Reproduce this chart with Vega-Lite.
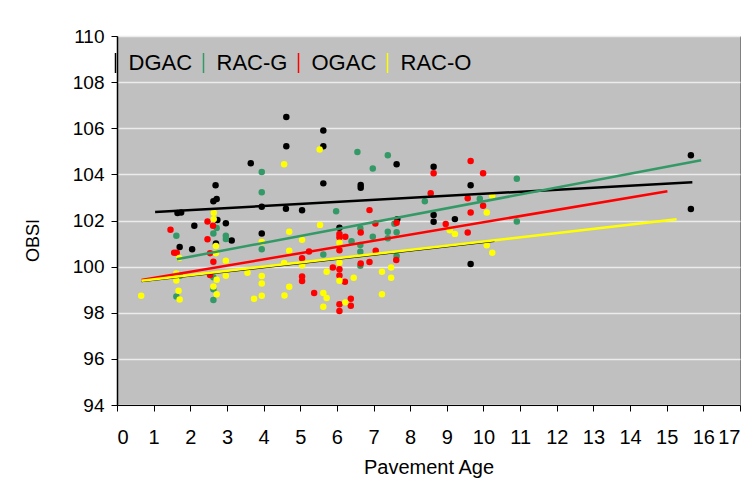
{
  "$schema": "https://vega.github.io/schema/vega-lite/v6.json",
  "width": 623,
  "height": 369,
  "autosize": {"type": "none"},
  "padding": {"left": 117, "top": 36, "right": 14, "bottom": 93},
  "background": "white",
  "config": {
    "font": "Liberation Sans",
    "view": {"fill": "#c0c0c0", "stroke": "#808080", "strokeWidth": 1}
  },
  "datasets": {
    "pts": [
      {"mix": "DGAC", "age": 1.65, "obsi": 102.33},
      {"mix": "DGAC", "age": 1.75, "obsi": 102.35},
      {"mix": "DGAC", "age": 2.11, "obsi": 101.77},
      {"mix": "DGAC", "age": 2.97, "obsi": 101.88},
      {"mix": "DGAC", "age": 1.71, "obsi": 100.85},
      {"mix": "DGAC", "age": 2.05, "obsi": 100.75},
      {"mix": "DGAC", "age": 2.63, "obsi": 102.83},
      {"mix": "DGAC", "age": 2.72, "obsi": 102.93},
      {"mix": "DGAC", "age": 2.74, "obsi": 102.02},
      {"mix": "DGAC", "age": 3.13, "obsi": 101.13},
      {"mix": "DGAC", "age": 2.70, "obsi": 101.0},
      {"mix": "DGAC", "age": 3.95, "obsi": 101.44},
      {"mix": "DGAC", "age": 3.95, "obsi": 102.6},
      {"mix": "DGAC", "age": 4.61, "obsi": 102.51},
      {"mix": "DGAC", "age": 2.69, "obsi": 103.53},
      {"mix": "DGAC", "age": 3.65, "obsi": 104.48},
      {"mix": "DGAC", "age": 4.62, "obsi": 106.49},
      {"mix": "DGAC", "age": 4.62, "obsi": 105.22},
      {"mix": "DGAC", "age": 5.63, "obsi": 105.9},
      {"mix": "DGAC", "age": 5.63, "obsi": 105.22},
      {"mix": "DGAC", "age": 5.63, "obsi": 103.61},
      {"mix": "DGAC", "age": 6.65, "obsi": 103.54},
      {"mix": "DGAC", "age": 6.65, "obsi": 103.42},
      {"mix": "DGAC", "age": 7.63, "obsi": 104.44},
      {"mix": "DGAC", "age": 8.64, "obsi": 104.33},
      {"mix": "DGAC", "age": 5.05, "obsi": 102.44},
      {"mix": "DGAC", "age": 6.07, "obsi": 101.69},
      {"mix": "DGAC", "age": 7.65, "obsi": 102.06},
      {"mix": "DGAC", "age": 8.64, "obsi": 102.24},
      {"mix": "DGAC", "age": 8.64, "obsi": 101.95},
      {"mix": "DGAC", "age": 9.65, "obsi": 103.53},
      {"mix": "DGAC", "age": 9.22, "obsi": 102.06},
      {"mix": "DGAC", "age": 9.65, "obsi": 100.11},
      {"mix": "DGAC", "age": 15.66, "obsi": 104.83},
      {"mix": "DGAC", "age": 15.66, "obsi": 102.5},
      {"mix": "RAC-G", "age": 3.95, "obsi": 104.1},
      {"mix": "RAC-G", "age": 3.95, "obsi": 103.22},
      {"mix": "RAC-G", "age": 6.56, "obsi": 104.97},
      {"mix": "RAC-G", "age": 7.39, "obsi": 104.83},
      {"mix": "RAC-G", "age": 6.98, "obsi": 104.25},
      {"mix": "RAC-G", "age": 5.98, "obsi": 102.4},
      {"mix": "RAC-G", "age": 8.4, "obsi": 102.83},
      {"mix": "RAC-G", "age": 10.91, "obsi": 103.81},
      {"mix": "RAC-G", "age": 10.91, "obsi": 101.96},
      {"mix": "RAC-G", "age": 9.9, "obsi": 102.94},
      {"mix": "RAC-G", "age": 1.62, "obsi": 101.34},
      {"mix": "RAC-G", "age": 2.63, "obsi": 101.44},
      {"mix": "RAC-G", "age": 2.72, "obsi": 101.67},
      {"mix": "RAC-G", "age": 2.97, "obsi": 101.34},
      {"mix": "RAC-G", "age": 2.97, "obsi": 101.2},
      {"mix": "RAC-G", "age": 3.95, "obsi": 100.75},
      {"mix": "RAC-G", "age": 2.63, "obsi": 99.54},
      {"mix": "RAC-G", "age": 1.62, "obsi": 98.71},
      {"mix": "RAC-G", "age": 2.63, "obsi": 99.02},
      {"mix": "RAC-G", "age": 2.63, "obsi": 98.55},
      {"mix": "RAC-G", "age": 1.72, "obsi": 99.6},
      {"mix": "RAC-G", "age": 5.63, "obsi": 100.53},
      {"mix": "RAC-G", "age": 6.4, "obsi": 101.1},
      {"mix": "RAC-G", "age": 6.64, "obsi": 101.66},
      {"mix": "RAC-G", "age": 6.64, "obsi": 100.94},
      {"mix": "RAC-G", "age": 6.64, "obsi": 100.65},
      {"mix": "RAC-G", "age": 6.64, "obsi": 100.04},
      {"mix": "RAC-G", "age": 6.98, "obsi": 101.3},
      {"mix": "RAC-G", "age": 7.39, "obsi": 101.51},
      {"mix": "RAC-G", "age": 7.39, "obsi": 101.23},
      {"mix": "RAC-G", "age": 7.63, "obsi": 101.49},
      {"mix": "RAC-G", "age": 7.63, "obsi": 100.46},
      {"mix": "RAC-G", "age": 7.57, "obsi": 101.86},
      {"mix": "OGAC", "age": 1.46, "obsi": 101.6},
      {"mix": "OGAC", "age": 1.56, "obsi": 100.6},
      {"mix": "OGAC", "age": 1.63, "obsi": 100.6},
      {"mix": "OGAC", "age": 2.47, "obsi": 101.96},
      {"mix": "OGAC", "age": 2.47, "obsi": 101.19},
      {"mix": "OGAC", "age": 2.62, "obsi": 101.77},
      {"mix": "OGAC", "age": 2.54, "obsi": 100.58},
      {"mix": "OGAC", "age": 2.63, "obsi": 100.21},
      {"mix": "OGAC", "age": 2.54, "obsi": 99.64},
      {"mix": "OGAC", "age": 5.05, "obsi": 100.36},
      {"mix": "OGAC", "age": 5.05, "obsi": 99.57},
      {"mix": "OGAC", "age": 5.05, "obsi": 99.38},
      {"mix": "OGAC", "age": 5.38, "obsi": 98.86},
      {"mix": "OGAC", "age": 5.24, "obsi": 100.66},
      {"mix": "OGAC", "age": 6.89, "obsi": 102.45},
      {"mix": "OGAC", "age": 7.05, "obsi": 101.87},
      {"mix": "OGAC", "age": 6.07, "obsi": 101.42},
      {"mix": "OGAC", "age": 6.07, "obsi": 101.27},
      {"mix": "OGAC", "age": 6.23, "obsi": 101.3},
      {"mix": "OGAC", "age": 6.65, "obsi": 101.48},
      {"mix": "OGAC", "age": 6.07, "obsi": 100.71},
      {"mix": "OGAC", "age": 5.89, "obsi": 99.96},
      {"mix": "OGAC", "age": 6.07, "obsi": 99.89},
      {"mix": "OGAC", "age": 6.07, "obsi": 99.62},
      {"mix": "OGAC", "age": 6.22, "obsi": 99.34},
      {"mix": "OGAC", "age": 6.89, "obsi": 100.2},
      {"mix": "OGAC", "age": 6.65, "obsi": 100.14},
      {"mix": "OGAC", "age": 7.06, "obsi": 100.69},
      {"mix": "OGAC", "age": 7.62, "obsi": 100.29},
      {"mix": "OGAC", "age": 7.63, "obsi": 101.9},
      {"mix": "OGAC", "age": 6.07, "obsi": 98.37},
      {"mix": "OGAC", "age": 6.07, "obsi": 98.08},
      {"mix": "OGAC", "age": 6.38, "obsi": 98.61},
      {"mix": "OGAC", "age": 6.38, "obsi": 98.3},
      {"mix": "OGAC", "age": 8.97, "obsi": 101.85},
      {"mix": "OGAC", "age": 9.57, "obsi": 101.48},
      {"mix": "OGAC", "age": 9.65, "obsi": 104.58},
      {"mix": "OGAC", "age": 8.64, "obsi": 104.05},
      {"mix": "OGAC", "age": 9.99, "obsi": 104.05},
      {"mix": "OGAC", "age": 8.56, "obsi": 103.18},
      {"mix": "OGAC", "age": 9.57, "obsi": 102.96},
      {"mix": "OGAC", "age": 9.99, "obsi": 102.64},
      {"mix": "OGAC", "age": 9.65, "obsi": 102.35},
      {"mix": "RAC-O", "age": 2.64, "obsi": 102.34},
      {"mix": "RAC-O", "age": 2.64, "obsi": 102.06},
      {"mix": "RAC-O", "age": 4.56, "obsi": 104.44},
      {"mix": "RAC-O", "age": 5.53, "obsi": 105.08},
      {"mix": "RAC-O", "age": 2.70, "obsi": 100.89},
      {"mix": "RAC-O", "age": 2.70, "obsi": 100.58},
      {"mix": "RAC-O", "age": 1.70, "obsi": 100.37},
      {"mix": "RAC-O", "age": 2.97, "obsi": 100.26},
      {"mix": "RAC-O", "age": 1.62, "obsi": 99.7},
      {"mix": "RAC-O", "age": 1.62, "obsi": 99.4},
      {"mix": "RAC-O", "age": 1.68, "obsi": 98.95},
      {"mix": "RAC-O", "age": 1.71, "obsi": 98.57},
      {"mix": "RAC-O", "age": 0.66, "obsi": 98.74},
      {"mix": "RAC-O", "age": 2.63, "obsi": 99.14},
      {"mix": "RAC-O", "age": 2.72, "obsi": 99.43},
      {"mix": "RAC-O", "age": 2.72, "obsi": 98.8},
      {"mix": "RAC-O", "age": 2.97, "obsi": 99.6},
      {"mix": "RAC-O", "age": 3.56, "obsi": 99.73},
      {"mix": "RAC-O", "age": 3.95, "obsi": 99.59},
      {"mix": "RAC-O", "age": 3.95, "obsi": 99.27},
      {"mix": "RAC-O", "age": 3.95, "obsi": 98.74},
      {"mix": "RAC-O", "age": 3.74, "obsi": 98.61},
      {"mix": "RAC-O", "age": 4.57, "obsi": 98.75},
      {"mix": "RAC-O", "age": 4.70, "obsi": 99.13},
      {"mix": "RAC-O", "age": 4.70, "obsi": 101.51},
      {"mix": "RAC-O", "age": 3.95, "obsi": 101.07},
      {"mix": "RAC-O", "age": 4.56, "obsi": 100.16},
      {"mix": "RAC-O", "age": 4.70, "obsi": 100.69},
      {"mix": "RAC-O", "age": 5.05, "obsi": 101.16},
      {"mix": "RAC-O", "age": 5.05, "obsi": 100.05},
      {"mix": "RAC-O", "age": 5.54, "obsi": 101.81},
      {"mix": "RAC-O", "age": 6.07, "obsi": 101.04},
      {"mix": "RAC-O", "age": 6.07, "obsi": 100.17},
      {"mix": "RAC-O", "age": 6.07, "obsi": 99.39},
      {"mix": "RAC-O", "age": 5.72, "obsi": 99.78},
      {"mix": "RAC-O", "age": 6.46, "obsi": 99.52},
      {"mix": "RAC-O", "age": 5.63, "obsi": 98.86},
      {"mix": "RAC-O", "age": 5.72, "obsi": 98.64},
      {"mix": "RAC-O", "age": 5.63, "obsi": 98.26},
      {"mix": "RAC-O", "age": 6.23, "obsi": 98.45},
      {"mix": "RAC-O", "age": 7.23, "obsi": 99.78},
      {"mix": "RAC-O", "age": 7.48, "obsi": 99.96},
      {"mix": "RAC-O", "age": 7.48, "obsi": 99.52},
      {"mix": "RAC-O", "age": 7.23, "obsi": 98.8},
      {"mix": "RAC-O", "age": 9.08, "obsi": 101.58},
      {"mix": "RAC-O", "age": 9.22, "obsi": 101.42},
      {"mix": "RAC-O", "age": 10.09, "obsi": 100.93},
      {"mix": "RAC-O", "age": 10.24, "obsi": 100.6},
      {"mix": "RAC-O", "age": 10.24, "obsi": 103.07},
      {"mix": "RAC-O", "age": 10.09, "obsi": 102.35}
    ],
    "trend": [
      {"mix": "DGAC", "age": 1.04, "obsi": 102.37},
      {"mix": "DGAC", "age": 15.7, "obsi": 103.66},
      {"mix": "RAC-G", "age": 1.63, "obsi": 100.32},
      {"mix": "RAC-G", "age": 15.94, "obsi": 104.61},
      {"mix": "OGAC", "age": 0.67, "obsi": 99.42},
      {"mix": "OGAC", "age": 15.02, "obsi": 103.27},
      {"mix": "RAC-O", "age": 0.67, "obsi": 99.39},
      {"mix": "RAC-O", "age": 15.27, "obsi": 102.05}
    ],
    "trend0": [
      {"mix": "all", "age": 0.67, "obsi": 99.35},
      {"mix": "all", "age": 10.3, "obsi": 101.1}
    ]
  },
  "encoding": {
    "x": {
      "field": "age", "type": "quantitative",
      "scale": {"domain": [0, 17], "nice": false, "zero": false},
      "axis": {
        "title": "Pavement Age",
        "values": [0,1,2,3,4,5,6,7,8,9,10,11,12,13,14,15,16,17],
        "grid": false,
        "domainColor": "black", "tickColor": "black", "tickSize": 6,
        "labelFontSize": 20, "labelColor": "black", "labelPadding": 16,
        "titleFontSize": 20, "titleFontWeight": "normal", "titleColor": "black", "titlePadding": 10
      }
    },
    "y": {
      "field": "obsi", "type": "quantitative",
      "scale": {"domain": [94, 110], "nice": false, "zero": false},
      "axis": {
        "title": "OBSI",
        "values": [94,96,98,100,102,104,106,108,110],
        "grid": true, "gridColor": "#ececec", "gridWidth": 1.5,
        "domainColor": "black", "domainWidth": 1.5, "tickColor": "black", "tickSize": 6,
        "labelFontSize": 19, "labelColor": "black", "labelPadding": 7,
        "titleFontSize": 18, "titleFontWeight": "normal", "titleColor": "black",
        "titleX": -84, "titleY": 204, "titleBaseline": "middle", "titleAlign": "center", "titleAngle": -90
      }
    }
  },
  "layer": [
    {
      "data": {"name": "pts"},
      "mark": {"type": "circle", "size": 42, "opacity": 1},
      "encoding": {
        "color": {
          "field": "mix", "type": "nominal",
          "scale": {"domain": ["DGAC", "RAC-G", "OGAC", "RAC-O"], "range": ["#000000", "#339966", "#ff0000", "#ffff00"]},
          "legend": {
            "title": null,
            "orient": "none",
            "direction": "horizontal",
            "legendX": -12.5,
            "legendY": 16,
            "symbolType": "M0,-1L0,1",
            "symbolSize": 400,
            "symbolStrokeWidth": 1.5,
            "labelFontSize": 22,
            "labelFont": "Liberation Sans",
            "labelOffset": 2,
            "labelLimit": 400,
            "columnPadding": 0,
            "padding": 0,
            "encode": {
              "symbols": {"update": {
                "stroke": {"value": "black"},
                "fill": {"value": "transparent"}
              }},
              "labels": {"update": {"fill": {"scale": "color", "field": "value"}}}
            }
          }
        }
      }
    },
    {
      "data": {"name": "trend0"},
      "mark": {"type": "line", "color": "black", "strokeWidth": 1.5},
      "encoding": {}
    },
    {
      "data": {"name": "trend"},
      "mark": {"type": "line", "strokeWidth": 2.5},
      "encoding": {
        "color": {"field": "mix", "type": "nominal"},
        "detail": {"field": "mix"}
      }
    }
  ]
}
